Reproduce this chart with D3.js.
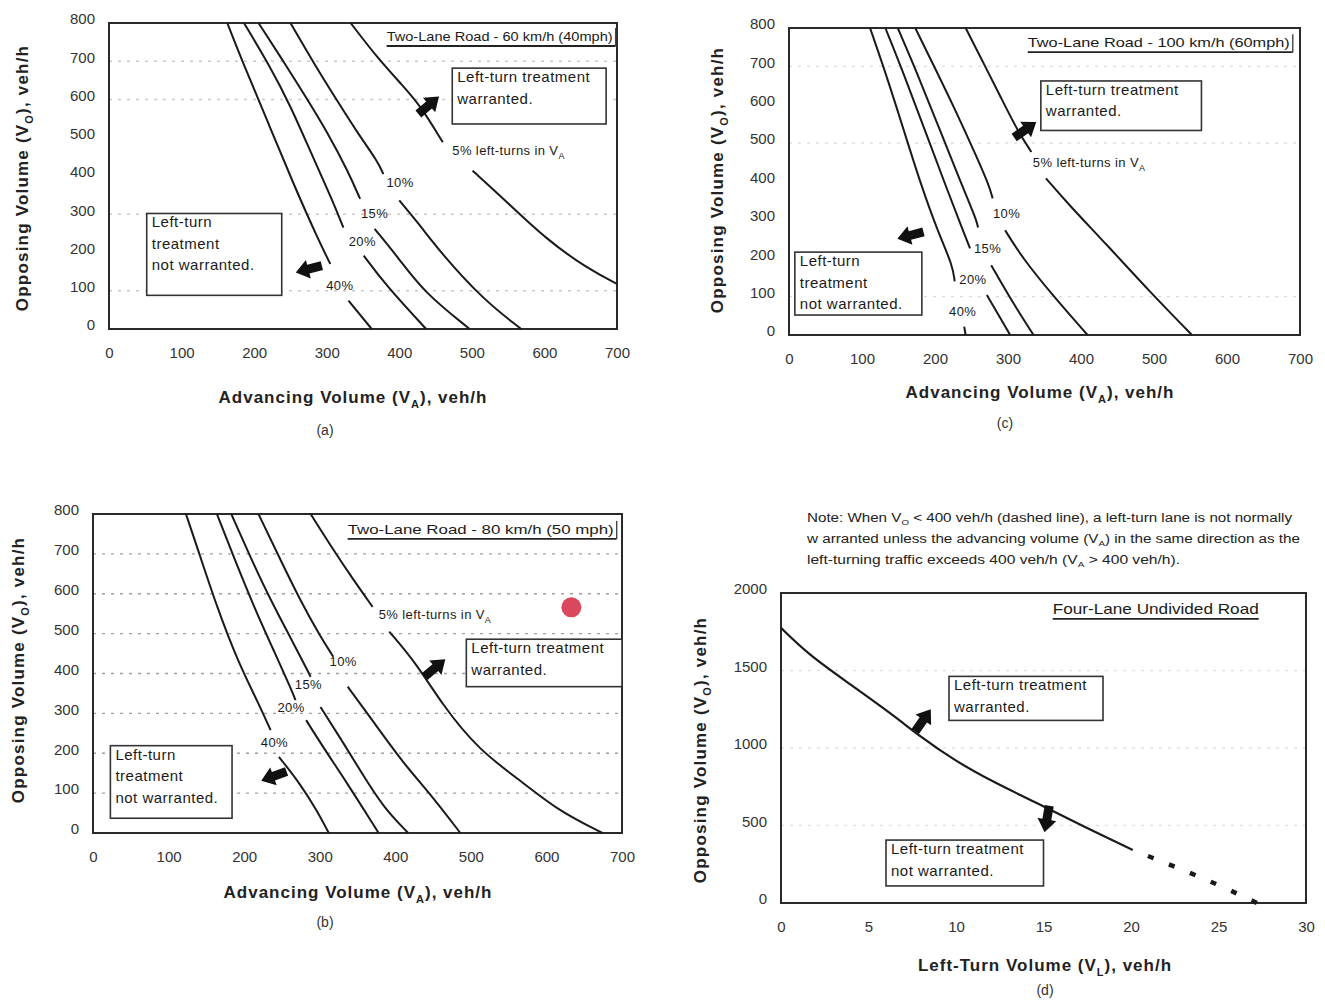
<!DOCTYPE html>
<html>
<head>
<meta charset="utf-8">
<title>Left-turn treatment guidelines</title>
<script src="https://cdn.jsdelivr.net/npm/d3@7"></script>
<style>
  body { margin: 0; background: #fff; }
  svg { display: block; font-family: "Liberation Sans", Arial, sans-serif; }
</style>
</head>
<body>
<svg id="chart" width="1325" height="1000"></svg>
<script>
// ---------- tick values ----------
const advancingTicks = [0, 100, 200, 300, 400, 500, 600, 700];
const opposingTicks = [0, 100, 200, 300, 400, 500, 600, 700, 800];
const leftTurnTicks = [0, 5, 10, 15, 20, 25, 30];
const opposingTicksFourLane = [0, 500, 1000, 1500, 2000];

// ---------- curve labels (percent of left turns in the advancing volume) ----------
const pctLabels = ['5% left-turns in V', '10%', '15%', '20%', '40%'];

// ---------- two-lane road, 60 km/h : [advancing, opposing] veh/h, two pieces per curve ----------
const kmh60_5  = [[[333,800],[371,706],[405,636],[429,584],[460,488]], [[501,414],[544,340],[602,235],[660,157],[700,118]]];
const kmh60_10 = [[[250,800],[284,689],[313,601],[342,514],[371,436],[378,405]], [[400,336],[429,270],[457,200],[515,78],[568,0]]];
const kmh60_15 = [[[206,800],[244,689],[273,601],[301,514],[330,410],[346,340]], [[366,262],[400,183],[434,96],[497,0]]];
const kmh60_20 = [[[186,800],[221,689],[250,584],[278,462],[307,340],[323,265]], [[351,192],[382,113],[437,0]]];
const kmh60_40 = [[[163,800],[186,689],[221,532],[255,375],[290,227],[305,170]], [[330,74],[362,0]]];

// ---------- two-lane road, 100 km/h ----------
const kmh100_5  = [[[242,800],[268,703],[291,616],[314,529],[332,477]], [[352,408],[384,338],[436,234],[494,113],[552,0]]];
const kmh100_10 = [[[173,800],[198,703],[227,590],[256,469],[274,390],[279,356]], [[296,273],[320,200],[361,104],[409,0]]];
const kmh100_15 = [[[149,800],[175,685],[204,547],[233,408],[256,304],[259,280]], [[277,182],[303,95],[335,0]]];
const kmh100_20 = [[[132,800],[158,677],[187,529],[216,382],[239,269],[248,226]], [[271,104],[303,0]]];
const kmh100_40 = [[[111,800],[135,668],[158,529],[181,390],[204,269],[224,182],[227,140]], [[240,22],[242,0]]];

// ---------- two-lane road, 80 km/h ----------
const kmh80_5  = [[[288,800],[318,710],[345,634],[370,567]], [[392,505],[428,425],[461,325],[510,208],[571,124],[615,57],[674,0]]];
const kmh80_10 = [[[219,800],[246,693],[274,584],[301,492],[318,442]], [[337,367],[373,274],[411,174],[450,90],[486,0]]];
const kmh80_15 = [[[183,800],[208,693],[235,584],[263,484],[288,392]], [[301,316],[329,233],[356,149],[384,65],[417,0]]];
const kmh80_20 = [[[164,800],[186,693],[213,567],[241,450],[263,358],[268,333]], [[282,283],[307,208],[334,132],[378,0]]];
const kmh80_40 = [[[123,800],[142,693],[164,567],[191,433],[219,325],[235,258]], [[246,191],[274,124],[296,57],[312,0]]];
const observed80 = [633, 566];

// ---------- four-lane undivided road : [left-turn volume, opposing volume] ----------
const fourLaneSolid  = [[0,1775],[1.55,1604],[3.94,1412],[6.33,1219],[8.0,1070],[9.9,920],[12.3,770],[14.7,642],[17.1,503],[20.1,342]];
const fourLaneDashed = [[20.1,342],[22.5,235],[25.0,118],[27.2,0]];

// ---------- annotation text ----------
const boxWarranted = ['Left-turn treatment', 'warranted.'];
const boxNotWarranted3 = ['Left-turn', 'treatment', 'not warranted.'];
const boxNotWarranted2 = ['Left-turn treatment', 'not warranted.'];
const xTitleAdvancing = ['Advancing Volume (V', {sub: 'A'}, '), veh/h'];
const yTitleOpposing = ['Opposing Volume (V', {sub: 'O'}, '), veh/h'];
const xTitleLeftTurn = ['Left-Turn Volume (V', {sub: 'L'}, '), veh/h'];
const noteLines = [
  ['Note: When V', {sub: 'O'}, ' < 400 veh/h (dashed line), a left-turn lane is not normally'],
  ['w arranted unless the advancing volume (V', {sub: 'A'}, ') in the same direction as the'],
  ['left-turning traffic exceeds 400 veh/h (V', {sub: 'A'}, ' > 400 veh/h).']
];
const noteWidths = [485, 493, 373];

// ---------- layout of each panel ----------
const panels = [
  { xRange: [109, 617], yRange: [329, 23], xDomain: [0, 700], yDomain: [0, 800],
    xTicks: advancingTicks, yTicks: opposingTicks,
    curves: [kmh60_5, kmh60_10, kmh60_15, kmh60_20, kmh60_40],
    labelAt: [[473,468],[401,382],[366,303],[349,230],[318,115]],
    boxes: [{x0: 473, x1: 685, y0: 536, y1: 682, lines: boxWarranted},
            {x0: 52, x1: 238, y0: 88, y1: 302, lines: boxNotWarranted3}],
    arrows: [[440, 584, -40], [276, 157, 165]],
    grid: [700, 600, 300, 100], gridOpacity: 0.45,
    title: 'Two-Lane Road - 60 km/h (40mph)', titleAt: [694, 753], titleWidth: 226,
    xTitle: xTitleAdvancing, xTitleAt: [353, 397], yTitle: yTitleOpposing, yTitleAt: [22, 178],
    caption: '(a)', captionAt: [325, 430] },
  { xRange: [789, 1300], yRange: [335, 28], xDomain: [0, 700], yDomain: [0, 800],
    xTicks: advancingTicks, yTicks: opposingTicks,
    curves: [kmh100_5, kmh100_10, kmh100_15, kmh100_20, kmh100_40],
    labelAt: [[334,450],[298,317],[272,226],[252,144],[238,62]],
    boxes: [{x0: 345, x1: 565, y0: 533, y1: 662, lines: boxWarranted},
            {x0: 8, x1: 182, y0: 52, y1: 216, lines: boxNotWarranted3}],
    arrows: [[323, 534, -35], [167, 260, 165]],
    grid: [700, 500, 100], gridOpacity: 0.3,
    title: 'Two-Lane Road - 100 km/h (60mph)', titleAt: [686, 750], titleWidth: 262,
    xTitle: xTitleAdvancing, xTitleAt: [1040, 392], yTitle: yTitleOpposing, yTitleAt: [717, 180],
    caption: '(c)', captionAt: [1005, 423] },
  { xRange: [93, 622], yRange: [833, 514], xDomain: [0, 700], yDomain: [0, 800],
    xTicks: advancingTicks, yTicks: opposingTicks,
    curves: [kmh80_5, kmh80_10, kmh80_15, kmh80_20, kmh80_40],
    labelAt: [[378,548],[331,430],[285,372],[262,315],[240,226]],
    boxes: [{x0: 494, x1: 700, y0: 367, y1: 486, lines: boxWarranted},
            {x0: 23, x1: 184, y0: 37, y1: 219, lines: boxNotWarranted3}],
    arrows: [[452, 413, -40], [240, 143, 160]],
    grid: [700, 600, 500, 400, 300, 200, 100], gridOpacity: 0.8,
    title: 'Two-Lane Road - 80 km/h (50 mph)', titleAt: [689, 750], titleWidth: 266,
    point: observed80,
    xTitle: xTitleAdvancing, xTitleAt: [358, 892], yTitle: yTitleOpposing, yTitleAt: [18, 670],
    caption: '(b)', captionAt: [325, 922] },
  { xRange: [781, 1306], yRange: [903, 593], xDomain: [0, 30], yDomain: [0, 2000],
    xTicks: leftTurnTicks, yTicks: opposingTicksFourLane,
    solid: fourLaneSolid, dashed: fourLaneDashed,
    boxes: [{x0: 9.6, x1: 18.4, y0: 1178, y1: 1462, lines: boxWarranted},
            {x0: 6.0, x1: 15.0, y0: 110, y1: 406, lines: boxNotWarranted2}],
    arrows: [[8.1, 1176, -55], [15.2, 545, 100]],
    grid: [1500, 1000, 500], gridOpacity: 0.25,
    title: 'Four-Lane Undivided Road', titleAt: [27.3, 1865], titleWidth: 206, titleSize: 15, noBar: true,
    xTitle: xTitleLeftTurn, xTitleAt: [1045, 965], yTitle: yTitleOpposing, yTitleAt: [700, 750],
    caption: '(d)', captionAt: [1045, 990] }
];

const svg = d3.select('#chart');
const INK = '#1a1a1a';

// text with subscripted pieces
function rich(text, parts, subSize, shift) {
  let down = false;
  parts.forEach(p => {
    const t = text.append('tspan');
    if (typeof p === 'string') {
      t.text(p);
      if (down) { t.attr('dy', -shift); down = false; }
    } else {
      t.text(p.sub).attr('font-size', subSize).attr('dy', shift);
      down = true;
    }
  });
}

const arrowShape = 'M-13,-4.5L1,-4.5L1,-9.5L14,0L1,9.5L1,4.5L-13,4.5Z';

panels.forEach(p => {
  const x = d3.scaleLinear().domain(p.xDomain).range(p.xRange);
  const y = d3.scaleLinear().domain(p.yDomain).range(p.yRange);
  const g = svg.append('g');
  const line = d3.line().x(d => x(d[0])).y(d => y(d[1])).curve(d3.curveBasis);

  // dotted horizontal guide lines
  g.append('g').selectAll('line').data(p.grid).join('line')
    .attr('x1', p.xRange[0]).attr('x2', p.xRange[1])
    .attr('y1', d => y(d)).attr('y2', d => y(d))
    .attr('stroke', '#8a8a8a').attr('stroke-width', 1.3)
    .attr('stroke-dasharray', '3,6').attr('opacity', p.gridOpacity);

  // axes (labels only)
  const xa = g.append('g').attr('transform', `translate(0,${p.yRange[0]})`)
    .call(d3.axisBottom(x).tickValues(p.xTicks).tickSize(0).tickPadding(18).tickFormat(d3.format('d')));
  const ya = g.append('g').attr('transform', `translate(${p.xRange[0]},0)`)
    .call(d3.axisLeft(y).tickValues(p.yTicks).tickSize(0).tickPadding(14).tickFormat(d3.format('d')));
  [xa, ya].forEach(a => {
    a.select('.domain').remove();
    a.selectAll('text').attr('font-size', 15).attr('fill', '#333')
      .attr('font-family', '"Liberation Sans", Arial, sans-serif');
  });
  ya.selectAll('text').attr('dy', '0.05em');

  // plot frame
  g.append('rect')
    .attr('x', p.xRange[0]).attr('y', p.yRange[1])
    .attr('width', p.xRange[1] - p.xRange[0]).attr('height', p.yRange[0] - p.yRange[1])
    .attr('fill', 'none').attr('stroke', '#2a2a2a').attr('stroke-width', 2);

  // boundary curves
  if (p.curves) {
    p.curves.forEach(segs => segs.forEach(seg => {
      g.append('path').attr('d', line(seg)).attr('fill', 'none')
        .attr('stroke', INK).attr('stroke-width', 2);
    }));
    p.labelAt.forEach((pos, i) => {
      const t = g.append('text')
        .attr('x', x(pos[0])).attr('y', y(pos[1])).attr('dy', '0.35em')
        .attr('font-size', 13).attr('letter-spacing', 0.4).attr('fill', INK)
        .attr('text-anchor', i === 0 ? 'start' : 'middle');
      if (i === 0) rich(t, [pctLabels[0], {sub: 'A'}], 9, 4);
      else t.text(pctLabels[i]);
    });
  }
  if (p.solid) {
    g.append('path').attr('d', line(p.solid)).attr('fill', 'none')
      .attr('stroke', INK).attr('stroke-width', 2.2);
    g.append('path').attr('d', line(p.dashed)).attr('fill', 'none')
      .attr('stroke', INK).attr('stroke-width', 4.5)
      .attr('stroke-dasharray', '6,16.5').attr('stroke-dashoffset', 6);
  }

  // observed condition
  if (p.point) {
    g.append('circle').attr('cx', x(p.point[0])).attr('cy', y(p.point[1])).attr('r', 10)
      .attr('fill', '#d9485c');
  }

  // region boxes
  p.boxes.forEach(b => {
    const left = x(b.x0), top = y(b.y1);
    g.append('rect').attr('x', left).attr('y', top)
      .attr('width', x(b.x1) - left).attr('height', y(b.y0) - top)
      .attr('fill', '#fff').attr('stroke', '#333').attr('stroke-width', 1.6);
    b.lines.forEach((s, i) => {
      g.append('text').attr('x', left + 5).attr('y', top + 14 + i * 21.5)
        .attr('font-size', 15).attr('letter-spacing', 0.5).attr('fill', INK).text(s);
    });
  });

  // direction arrows
  p.arrows.forEach(a => {
    g.append('path').attr('d', arrowShape)
      .attr('transform', `translate(${x(a[0])},${y(a[1])}) rotate(${a[2]})`)
      .attr('fill', '#111');
  });

  // road-type title, underlined
  const tx = x(p.titleAt[0]), ty = y(p.titleAt[1]);
  g.append('text').attr('x', tx).attr('y', ty).attr('text-anchor', 'end')
    .attr('font-size', p.titleSize || 13.5).attr('fill', INK)
    .attr('textLength', p.titleWidth).attr('lengthAdjust', 'spacingAndGlyphs')
    .text(p.title);
  g.append('line').attr('x1', tx - p.titleWidth).attr('x2', tx + (p.noBar ? 0 : 3))
    .attr('y1', ty + 5).attr('y2', ty + 5).attr('stroke', '#222').attr('stroke-width', 1.8);
  if (!p.noBar) {
    g.append('line').attr('x1', tx + 3).attr('x2', tx + 3).attr('y1', ty - 13).attr('y2', ty + 5)
      .attr('stroke', '#444').attr('stroke-width', 1.4);
  }

  // axis titles and caption
  const xt = g.append('text').attr('x', p.xTitleAt[0]).attr('y', p.xTitleAt[1]).attr('dy', '0.35em')
    .attr('text-anchor', 'middle').attr('font-size', 17).attr('font-weight', 'bold')
    .attr('letter-spacing', 1).attr('fill', '#222');
  rich(xt, p.xTitle, 11, 5);
  const yt = g.append('text')
    .attr('transform', `translate(${p.yTitleAt[0]},${p.yTitleAt[1]}) rotate(-90)`).attr('dy', '0.35em')
    .attr('text-anchor', 'middle').attr('font-size', 17).attr('font-weight', 'bold')
    .attr('letter-spacing', 1.2).attr('fill', '#222');
  rich(yt, p.yTitle, 11, 5);
  g.append('text').attr('x', p.captionAt[0]).attr('y', p.captionAt[1]).attr('dy', '0.35em')
    .attr('text-anchor', 'middle').attr('font-size', 14).attr('fill', '#333').text(p.caption);
});

// note above the four-lane panel
noteLines.forEach((parts, i) => {
  const t = svg.append('text').attr('x', 807).attr('y', 522 + i * 21)
    .attr('font-size', 12.5).attr('fill', '#222')
    .attr('textLength', noteWidths[i]).attr('lengthAdjust', 'spacingAndGlyphs');
  rich(t, parts, 8, 3);
});
</script>
</body>
</html>
